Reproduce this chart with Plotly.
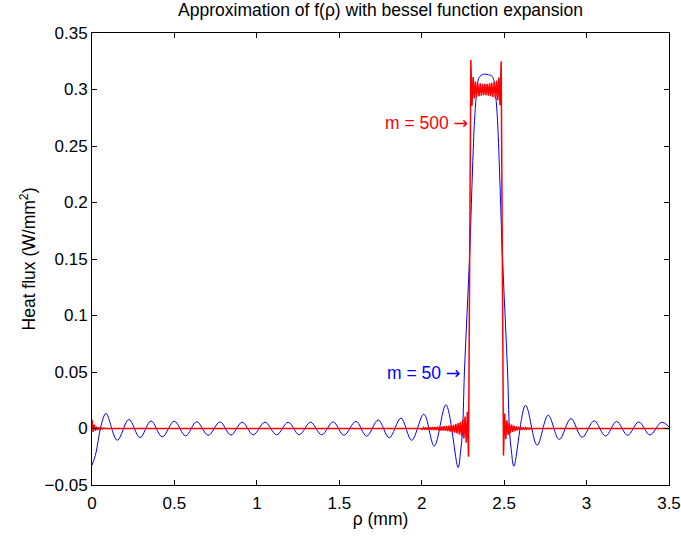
import plotly.graph_objects as go

# ---- data ----
# m = 50 approximation: extrema and shape points
blue_rho = [0.000, 0.020, 0.038, 0.053, 0.085, 0.153, 0.224, 0.291, 0.358, 0.426, 0.499, 0.568,
            0.635, 0.705, 0.776, 0.843, 0.911, 0.978, 1.049, 1.120, 1.190, 1.257, 1.326, 1.393,
            1.463, 1.528, 1.601, 1.666, 1.736, 1.803, 1.874, 1.939, 2.013, 2.076, 2.147,
            2.221, 2.236, 2.248, 2.259, 2.275, 2.292, 2.301, 2.310, 2.322, 2.335, 2.346, 2.360,
            2.375, 2.390, 2.405, 2.420, 2.434, 2.445, 2.458, 2.470, 2.479, 2.488, 2.505, 2.521,
            2.532, 2.544, 2.559,
            2.630, 2.700, 2.767, 2.834, 2.905, 2.973, 3.046, 3.115, 3.182, 3.249, 3.317, 3.384,
            3.455, 3.500]
blue_q = [-0.0325, -0.024, -0.0104, 0.0014, 0.0133, -0.0104, 0.0080, -0.0080, 0.0067, -0.0074, 0.0065, -0.0065,
          0.0060, -0.0060, 0.0058, -0.0058, 0.0056, -0.0056, 0.0056, -0.0055, 0.0055, -0.0055, 0.0056, -0.0056,
          0.0058, -0.0060, 0.0063, -0.0068, 0.0075, -0.0082, 0.0092, -0.0105, 0.0127, -0.0155, 0.0210,
          -0.0345, -0.0200, 0.0000, 0.0500, 0.1020, 0.1580, 0.1980, 0.2370, 0.2770, 0.3000, 0.3100, 0.3125,
          0.3135, 0.3135, 0.3130, 0.3125, 0.3100, 0.3000, 0.2770, 0.2370, 0.1980, 0.1580, 0.1020, 0.0500,
          0.0000, -0.0200, -0.0334,
          0.0206, -0.0148, 0.0118, -0.0097, 0.0088, -0.0078, 0.0068, -0.0067, 0.0062, -0.0060, 0.0058, -0.0057,
          0.0055, 0.0014]

# m = 500 approximation
red_rho = [0.000, 0.007, 0.014, 0.021, 0.028, 0.035, 0.042, 0.049, 0.056, 0.063, 0.070, 0.080,
           1.990,
           2.004, 2.011, 2.018, 2.025, 2.032, 2.039, 2.046, 2.053, 2.060, 2.067, 2.074, 2.081,
           2.088, 2.095, 2.102, 2.109, 2.116, 2.123, 2.130, 2.137, 2.144, 2.151, 2.158, 2.165,
           2.172, 2.179, 2.186, 2.193, 2.200, 2.207, 2.214, 2.221, 2.228, 2.235, 2.242, 2.249,
           2.256, 2.263, 2.270, 2.277, 2.284,
           2.298, 2.305, 2.312, 2.319, 2.326, 2.333, 2.340, 2.348, 2.355, 2.362, 2.369, 2.376,
           2.383, 2.390, 2.397, 2.404, 2.411, 2.418, 2.425, 2.432, 2.440, 2.447, 2.454, 2.461,
           2.468, 2.475, 2.482,
           2.496, 2.503, 2.510, 2.517, 2.524, 2.531, 2.538, 2.545, 2.552, 2.559, 2.566, 2.573,
           2.580, 2.587, 2.594, 2.601, 2.608, 2.615, 2.622, 2.629, 2.636, 2.643, 2.650, 2.657,
           2.664, 2.680, 3.500]
red_q = [0.0080, -0.0030, 0.0035, -0.0020, 0.0015, -0.0012, 0.0010, -0.0008, 0.0006, -0.0005, 0.0004, 0.0000,
         0.0000,
         -0.0008, 0.0009, -0.0009, 0.0009, -0.0010, 0.0010, -0.0011, 0.0011, -0.0012, 0.0012, -0.0013, 0.0013,
         -0.0014, 0.0015, -0.0015, 0.0016, -0.0017, 0.0018, -0.0019, 0.0020, -0.0021, 0.0022, -0.0024, 0.0025,
         -0.0027, 0.0029, -0.0031, 0.0033, -0.0036, 0.0039, -0.0043, 0.0047, -0.0052, 0.0058, -0.0066, 0.0076,
         -0.0088, 0.0105, -0.0125, 0.0148, -0.0250,
         0.3260, 0.2855, 0.3110, 0.2920, 0.3070, 0.2935, 0.3055, 0.2940, 0.3055, 0.2945, 0.3050, 0.2950,
         0.3050, 0.2950, 0.3050, 0.2945, 0.3055, 0.2940, 0.3060, 0.2935, 0.3065, 0.2920, 0.3080, 0.2905,
         0.3105, 0.2860, 0.3250,
         -0.0240, 0.0133, -0.0095, 0.0072, -0.0058, 0.0048, -0.0040, 0.0034, -0.0029, 0.0025, -0.0022, 0.0019,
         -0.0017, 0.0015, -0.0013, 0.0012, -0.0011, 0.0010, -0.0009, 0.0008, -0.0007, 0.0006, -0.0005, 0.0005,
         -0.0004, 0.0000, 0.0000]

x_ticks = [0, 0.5, 1, 1.5, 2, 2.5, 3, 3.5]
y_ticks = [-0.05, 0, 0.05, 0.1, 0.15, 0.2, 0.25, 0.3, 0.35]

labels = ["m = 500", "m = 50"]
label_x = [2.292, 2.252]
label_y = [0.270, 0.0487]
label_colors = ["#ff0000", "#0000ff"]

FONT = "Liberation Sans, Arial, Helvetica, sans-serif"
FS = 17.5
TFS = 17

fig = go.Figure()
fig.add_trace(go.Scatter(x=blue_rho, y=blue_q, mode="lines",
                         line=dict(color="#0000ff", width=1, shape="spline", smoothing=1),
                         showlegend=False, hoverinfo="skip"))
fig.add_trace(go.Scatter(x=red_rho, y=red_q, mode="lines",
                         line=dict(color="#ff0000", width=1.5),
                         showlegend=False, hoverinfo="skip"))

for t, xx, yy, c in zip(labels, label_x, label_y, label_colors):
    fig.add_annotation(x=xx, y=yy, xref="x", yref="y",
                       text=t + " <span style='font-family:DejaVu Sans'>\u2192</span>",
                       showarrow=False, xanchor="right", yanchor="middle",
                       font=dict(family=FONT, size=FS, color=c))

axis_common = dict(showline=True, linecolor="black", linewidth=1, mirror="ticks",
                   ticks="inside", ticklen=5, tickcolor="black", showgrid=False,
                   zeroline=False, automargin=False, ticklabeloverflow="allow",
                   tickfont=dict(family=FONT, size=TFS, color="black"))

fig.update_layout(
    width=681, height=538,
    margin=dict(l=92, r=12, t=33, b=53),
    paper_bgcolor="white", plot_bgcolor="white",
    title=dict(text="Approximation of f(\u03c1) with bessel function expansion",
               x=0.5, xref="paper", y=1 - 10 / 538, yref="container",
               xanchor="center", yanchor="middle",
               font=dict(family=FONT, size=FS, color="black")),
    xaxis=dict(range=[0, 3.5], tickvals=x_ticks, ticklabelstandoff=3,
               title=dict(text="\u03c1 (mm)", font=dict(family=FONT, size=FS, color="black"), standoff=0),
               **axis_common),
    yaxis=dict(range=[-0.05, 0.35], tickvals=y_ticks,
               title=dict(text="Heat flux (W/mm<sup>2</sup>)", font=dict(family=FONT, size=FS, color="black"),
                          standoff=4),
               **axis_common),
)

fig.write_html("out.html")
